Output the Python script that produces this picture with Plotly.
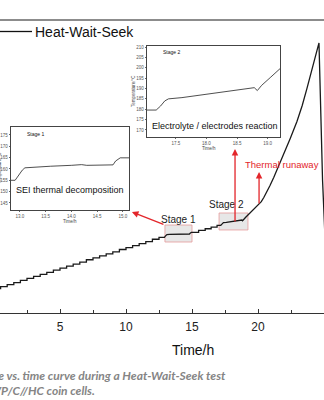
import plotly.graph_objects as go

# ---- Heat-Wait-Seek record (time in h, temperature in degC) ----
# Heat-Wait-Seek steps: start time of each plateau and its temperature
hws_step_h = [0.0, 0.5, 1.0, 1.5, 2.0, 2.5, 3.0, 3.5, 4.0, 4.5, 5.0, 5.5, 6.0,
              6.5, 7.0, 7.5, 8.0, 8.5, 9.0, 9.5, 10.0, 10.5, 11.0, 11.5,
              12.0, 12.5]
hws_step_c = [50, 54, 58, 62, 67, 71, 75, 79, 83, 88, 92, 96, 100,
              104, 109, 113, 117, 121, 125, 130, 134, 138, 142, 146,
              151, 155]

# Stage 1: SEI thermal decomposition
stage1_h = [12.91, 12.98, 13.05, 13.10, 13.30, 13.60, 14.00, 14.20, 14.30,
            14.50, 14.70, 14.81, 14.86, 14.92, 14.95, 15.12]
stage1_c = [155.0, 157.5, 159.5, 160.5, 160.9, 161.2, 161.6, 161.9, 161.6,
            161.7, 161.8, 161.8, 163.5, 164.7, 164.9, 164.9]

# Further HWS steps between the two stages
hws2_step_h = [15.5, 16.0, 16.45, 16.9]
hws2_step_c = [169.0, 172.5, 176.0, 179.6]

# Stage 2: electrolyte / electrode reaction
stage2_h = [17.18, 17.25, 17.32, 17.38, 17.60, 18.00, 18.40, 18.78, 18.83,
            18.90, 19.05, 19.22]
stage2_c = [179.6, 181.5, 184.0, 185.0, 185.6, 187.2, 188.8, 190.4, 189.0,
            191.5, 195.5, 200.0]

# Thermal runaway and cell venting
runaway_h = [19.6, 20.0, 20.25, 20.45, 20.7, 20.91, 21.2, 21.44, 21.97, 22.45,
             22.95, 23.35, 23.71, 24.24, 24.62, 24.89, 25.15]
runaway_c = [210, 220, 228, 237, 249, 261, 278, 293, 327, 358,
             392, 425, 460, 512, 553, 272, 108]

main_ticks = [5, 10, 15, 20, 25]
inset1_xticks = [13.0, 13.5, 14.0, 14.5, 15.0]
inset1_yticks = [145, 150, 155, 160, 165, 170, 175]
inset2_xticks = [17.5, 18.0, 18.5, 19.0]
inset2_yticks = [170, 175, 180, 185, 190, 195, 200, 205, 210]


def add_steps(xs, ys, step_h, step_c):
    """Append plateaus as horizontal-then-vertical segments."""
    for t, c in zip(step_h, step_c):
        if ys:
            xs.append(t)
            ys.append(ys[-1])
        xs.append(t)
        ys.append(c)


t_all, c_all = [], []
add_steps(t_all, c_all, hws_step_h, hws_step_c)
t_all += stage1_h
c_all += stage1_c
add_steps(t_all, c_all, hws2_step_h, hws2_step_c)
t_all += stage2_h
c_all += stage2_c
t_all += runaway_h
c_all += runaway_c

# ---- page geometry (pixels) ----
W, H = 324, 400
TOP, BOT = 20, 313


def fx(px):
    return px / W


def fy(py):
    return (BOT - py) / (BOT - TOP)


FONT = "Liberation Sans, Arial, sans-serif"
RED = "#e3262b"

fig = go.Figure()
fig.add_trace(go.Scatter(x=t_all, y=c_all, mode="lines",
                         line=dict(color="#1a1a1a", width=1.3),
                         xaxis="x", yaxis="y", showlegend=False,
                         hoverinfo="skip"))
for xa, ya in (("x2", "y2"), ("x3", "y3")):
    fig.add_trace(go.Scatter(x=t_all, y=c_all, mode="lines",
                             line=dict(color="#222", width=0.8),
                             xaxis=xa, yaxis=ya, showlegend=False,
                             hoverinfo="skip"))

inset_axis = dict(showline=True, mirror=True, linecolor="#444", linewidth=0.7,
                  ticks="outside", ticklen=1.5, tickwidth=0.5, tickcolor="#666",
                  tickfont=dict(family=FONT, size=4.5, color="#555"),
                  showgrid=False, zeroline=False)

fig.update_layout(
    width=W, height=H,
    margin=dict(l=0, r=0, t=TOP, b=H - BOT, pad=0),
    paper_bgcolor="white", plot_bgcolor="white",
    font=dict(family=FONT, color="#111"),
    xaxis=dict(domain=[0, 1], range=[0.4545, 25.0], anchor="y",
               showline=True, linecolor="#333", linewidth=1,
               ticks="inside", ticklen=4, tickcolor="#333", tickwidth=1,
               tickvals=main_ticks, ticktext=[str(v) for v in main_ticks],
               tickfont=dict(family=FONT, size=12, color="#222"),
               ticklabelstandoff=3,
               minor=dict(ticks="inside", ticklen=3, dtick=2.5, tick0=0,
                          tickcolor="#333"),
               showgrid=False, zeroline=False),
    yaxis=dict(domain=[0, 1], range=[0, 600], visible=False, anchor="x"),
    xaxis2=dict(inset_axis, domain=[fx(11), fx(129)], range=[12.83, 15.12],
                anchor="y2", tickvals=inset1_xticks,
                ticktext=[f"{v:.1f}" for v in inset1_xticks]),
    yaxis2=dict(inset_axis, domain=[fy(210), fy(127)], range=[141.9, 178.5],
                anchor="x2", tickvals=inset1_yticks),
    xaxis3=dict(inset_axis, domain=[fx(147), fx(280)], range=[17.03, 19.2],
                anchor="y3", tickvals=inset2_xticks,
                ticktext=[f"{v:.1f}" for v in inset2_xticks]),
    yaxis3=dict(inset_axis, domain=[fy(137), fy(46)], range=[166.6, 210.5],
                anchor="x3", tickvals=inset2_yticks),
)

# stage boxes on the main curve
for x0, x1, y0, y1 in ((12.95, 15.0, 145.4, 180.2), (17.05, 19.24, 170.0, 204.8)):
    fig.add_shape(type="rect", xref="x", yref="y", x0=x0, x1=x1, y0=y0, y1=y1,
                  fillcolor="rgba(215,215,215,0.6)",
                  line=dict(color="#e59a9a", width=0.8), layer="below")

# frame line at the top and legend sample
fig.add_shape(type="line", xref="paper", yref="paper", x0=0, x1=1,
              y0=fy(20), y1=fy(20), line=dict(color="#8c8c8c", width=2))
fig.add_shape(type="line", xref="paper", yref="paper", x0=0, x1=fx(32),
              y0=fy(31.5), y1=fy(31.5), line=dict(color="#111", width=1.3))


def label(text, px, py, size, color="#111", anchor="center", angle=0,
          family=FONT):
    fig.add_annotation(text=text, xref="paper", yref="paper",
                       x=fx(px), y=fy(py), xanchor=anchor, yanchor="middle",
                       showarrow=False, textangle=angle,
                       font=dict(family=family, size=size, color=color))


label("Heat-Wait-Seek", 33, 31.5, 14, anchor="left")
label("Time/h", 193, 350, 14)
label("SEI thermal decomposition", 70, 190, 9)
label("Electrolyte / electrodes reaction", 214.5, 126, 9)
label("Stage 1", 35, 134, 5)
label("Stage 2", 171, 52, 5)
label("Time/h", 70, 221, 4.5, color="#444")
label("Time/h", 209, 148, 4.5, color="#444")
label("Temperature/°C", 133, 91, 4.5, color="#444", angle=-90)
label("Temperature/°C", -1, 168, 4.5, color="#444", angle=-90)
label("Stage 1", 178, 219, 10, color="#222")
label("Stage 2", 226, 204, 10, color="#222")
label("Thermal runaway", 282, 164, 9.5, color=RED)
label("<b><i>Temperature vs. time curve during a Heat-Wait-Seek test</i></b>",
      228, 375, 12, color="#858585", anchor="right", family="Lato, sans-serif")
label("<b><i>of NVP/C//HC coin cells.</i></b>",
      97, 390, 12, color="#858585", anchor="right", family="Lato, sans-serif")

# red arrows: box -> inset, box -> reaction, onset of runaway
for (xh, yh, xt, yt) in ((10.45, 206.8, 12.95, 180.2),
                         (18.26, 335.9, 18.26, 184.3),
                         (20.08, 288.8, 20.08, 221.0)):
    fig.add_annotation(x=xh, y=yh, ax=xt, ay=yt, xref="x", yref="y",
                       axref="x", ayref="y", text="", showarrow=True,
                       arrowhead=2, arrowsize=1, arrowwidth=1.3,
                       arrowcolor=RED, standoff=0, startstandoff=0)

fig.write_html("out.html")
